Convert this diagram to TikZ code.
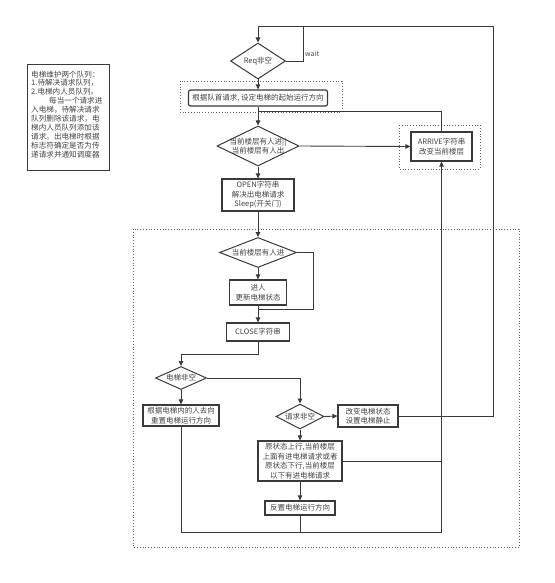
\documentclass[tikz,border=0pt]{standalone}
\usepackage{fontspec}
\setmainfont{Noto Sans CJK SC}
\usetikzlibrary{arrows.meta,shapes.geometric}
\definecolor{linec}{HTML}{3A3A3A}
\definecolor{textc}{HTML}{444444}
\tikzset{
  conn/.style={draw=linec, line width=0.9pt},
  arr/.style={conn, -{Triangle[length=5pt,width=4.5pt]}},
  box/.style={draw=linec, line width=1.2pt, fill=white, inner sep=0pt, align=center,
    font=\fontsize{7.5}{9.6}\selectfont, text=textc},
  diam/.style={diamond, draw=linec, line width=1pt, fill=white, inner sep=0pt},
  dtext/.style={font=\fontsize{7.5}{9.6}\selectfont, text=textc, align=center, inner sep=0pt},
  dotbox/.style={draw=linec!80, line width=0.8pt, dotted}
}
\begin{document}
\begin{tikzpicture}[x=1pt,y=-1pt]
\useasboundingbox (0,0) rectangle (554,583);

% note box
\node[draw=linec, line width=0.8pt, minimum width=82pt, minimum height=106pt, inner sep=0pt] (note) at (68,117) {};
\node[anchor=north west, inner sep=0pt, align=left, text=textc,
      font=\fontsize{7.6}{8.9}\selectfont] (notetext) at (31,70.5)
 {电梯维护两个队列：\\1.待解决请求队列，\\2.电梯内人员队列。\\\hspace*{18pt}每当一个请求进\\入电梯，待解决请求\\队列删除该请求，电\\梯内人员队列添加该\\请求。出电梯时根据\\标志符确定是否为传\\递请求并通知调度器};

% dotted frames
\draw[dotbox] (180,81) rectangle (342,112);
\draw[dotbox] (399,125) rectangle (480,169);
\draw[dotbox] (133,229) rectangle (519,547);

% nodes
\node[diam, minimum width=55pt, minimum height=36pt, label={[dtext]center:Req非空}] (d1) at (258,61) {};
\node[box, rounded corners=2pt, minimum width=139pt, minimum height=16pt] (start) at (258,98) {根据队首请求, 设定电梯的起始运行方向};
\node[diam, minimum width=82pt, minimum height=40pt, label={[dtext]center:{当前楼层有人进||\\当前楼层有人出}}] (d2) at (258,146) {};
\node[box, minimum width=61pt, minimum height=29pt] (arrive) at (441.5,146.5) {ARRIVE字符串\\改变当前楼层};
\node[box, minimum width=72pt, minimum height=32pt] (open) at (258,195) {OPEN字符串\\解决出电梯请求\\Sleep(开关门)};
\node[diam, minimum width=77pt, minimum height=30pt, label={[dtext]center:当前楼层有人进}] (d3) at (258,252.5) {};
\node[box, minimum width=57pt, minimum height=25pt] (enter) at (258,292.5) {进人\\更新电梯状态};
\node[box, minimum width=63pt, minimum height=18pt] (close) at (258,332) {CLOSE字符串};
\node[diam, minimum width=51pt, minimum height=23pt, label={[dtext]center:电梯非空}] (d4) at (181,378) {};
\node[box, minimum width=76pt, minimum height=21pt] (reset) at (181,415.5) {根据电梯内的人去向\\重置电梯运行方向};
\node[diam, minimum width=48pt, minimum height=25pt, label={[dtext]center:请求非空}] (d5) at (300,416.5) {};
\node[box, minimum width=60pt, minimum height=22pt] (stop) at (368,416) {改变电梯状态\\设置电梯静止};
\node[box, minimum width=84pt, minimum height=40pt] (orig) at (300,461) {原状态上行,当前楼层\\上面有进电梯请求或者\\原状态下行,当前楼层\\以下有进电梯请求};
\node[box, minimum width=70pt, minimum height=14pt] (rev) at (300,508) {反置电梯运行方向};

\node[anchor=west, inner sep=0pt, text=textc, font=\fontsize{7}{8}\selectfont] (wait) at (305,54) {wait};

% coordinates
\coordinate (topl) at (258,26);
\coordinate (topm) at (303,26);
\coordinate (topr) at (493,26);
\coordinate (j1) at (258,111);
\coordinate (j2) at (258,309);
\coordinate (j3) at (300,532);

% connectors
\draw[arr] (d1.east) -| (topm) -- (topl) -- (d1.north);
\draw[conn] (stop.east) -| (topr) -- (topm);
\draw[arr] (d1.south) -- (start.north);
\draw[arr] (start.south) -- (d2.north);
\draw[conn] (arrive.north) |- (j1);
\draw[arr] (d2.east) -- (arrive.west);
\draw[arr] (d2.south) -- (open.north);
\draw[arr] (open.south) -- (d3.north);
\draw[arr] (d3.south) -- (enter.north);
\draw[conn] (d3.east) -| (313,309) -- (j2);
\draw[arr] (enter.south) -- (close.north);
\draw[arr] (close.south) |- (181,354) -- (d4.north);
\draw[arr] (d4.south) -- (reset.north);
\draw[arr] (d4.east) -| (d5.north);
\draw[arr] (d5.east) -- (stop.west);
\draw[arr] (d5.south) -- (orig.north);
\draw[arr] (orig.south) -- (rev.north);
\draw[conn] (orig.east) -- (orig.east -| arrive.south);
\draw[conn] (reset.south) |- (j3);
\draw[arr] (rev.south) -- (j3) -| (arrive.south);
\end{tikzpicture}
\end{document}
